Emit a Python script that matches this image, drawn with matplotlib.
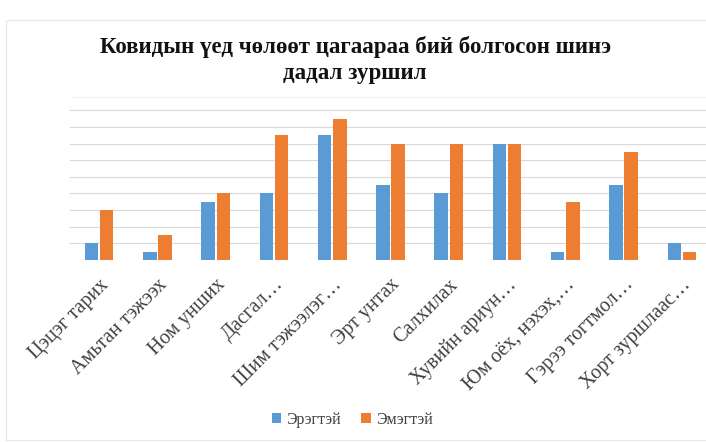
import matplotlib
matplotlib.use("Agg")
import matplotlib.pyplot as plt
from matplotlib.patches import Rectangle
import numpy as np

plt.rcParams['font.family'] = ['Liberation Serif', 'DejaVu Serif']

categories = ['Цэцэг тарих', 'Амьтан тэжээх', 'Ном унших', 'Дасгал…',
              'Шим тэжээлэг…', 'Эрт унтах', 'Салхилах', 'Хувийн ариун…',
              'Юм оёх, нэхэх,…', 'Гэрээ тогтмол…', 'Хорт зуршлаас…']
male = [2, 1, 7, 8, 15, 9, 8, 14, 1, 9, 2]
female = [6, 3, 8, 15, 17, 14, 14, 14, 7, 13, 1]
series_names = ['Эрэгтэй', 'Эмэгтэй']
colors = ['#5B9BD5', '#ED7D31']

W, H = 706, 442
fig = plt.figure(figsize=(W / 100, H / 100), dpi=100)

# light chart frame
fig.patches.append(Rectangle((6 / W, 2 / H), 1, 1 - 22 / H, transform=fig.transFigure,
                             fill=False, edgecolor='#e8e8e8', linewidth=0.8))

ax = fig.add_axes([70 / W, 1 - 260 / H, 641 / W, 163 / H])
x = np.arange(len(categories))
bw = 0.23
ax.bar(x - 0.13, male, bw, color=colors[0], label=series_names[0], zorder=2)
ax.bar(x + 0.13, female, bw, color=colors[1], label=series_names[1], zorder=2)

ax.set_xlim(-0.5, len(categories) - 0.5)
ax.set_ylim(0, 19.6)
ax.set_yticks(np.arange(0, 19, 2))
ax.yaxis.grid(True, color='#d9d9d9', linewidth=0.8, zorder=0)
ax.tick_params(axis='y', length=0, labelleft=False)
ax.tick_params(axis='x', length=0, pad=11)
for s in ['left', 'right', 'bottom']:
    ax.spines[s].set_visible(False)
ax.spines['top'].set_color('#f0f0f0')
ax.spines['top'].set_linewidth(0.6)

ax.set_xticks(x)
ax.set_xticklabels(categories, rotation=45, ha='right', rotation_mode='anchor',
                   fontsize=14.5, color='#404040')

fig.text(355 / W, 1 - 47 / H, 'Ковидын үед чөлөөт цагаараа бий болгосон шинэ',
         ha='center', va='center', fontsize=16.5, fontweight='bold', color='#111111')
fig.text(355 / W, 1 - 74 / H, 'дадал зуршил',
         ha='center', va='center', fontsize=16.5, fontweight='bold', color='#111111')

fig.legend(loc='center', bbox_to_anchor=(352 / W, 1 - 420 / H), ncol=2, frameon=False,
           fontsize=11.5, handlelength=0.6, handleheight=0.6, handletextpad=0.3,
           columnspacing=1.3, labelcolor='#404040')

fig.savefig('out.png', dpi=100)
